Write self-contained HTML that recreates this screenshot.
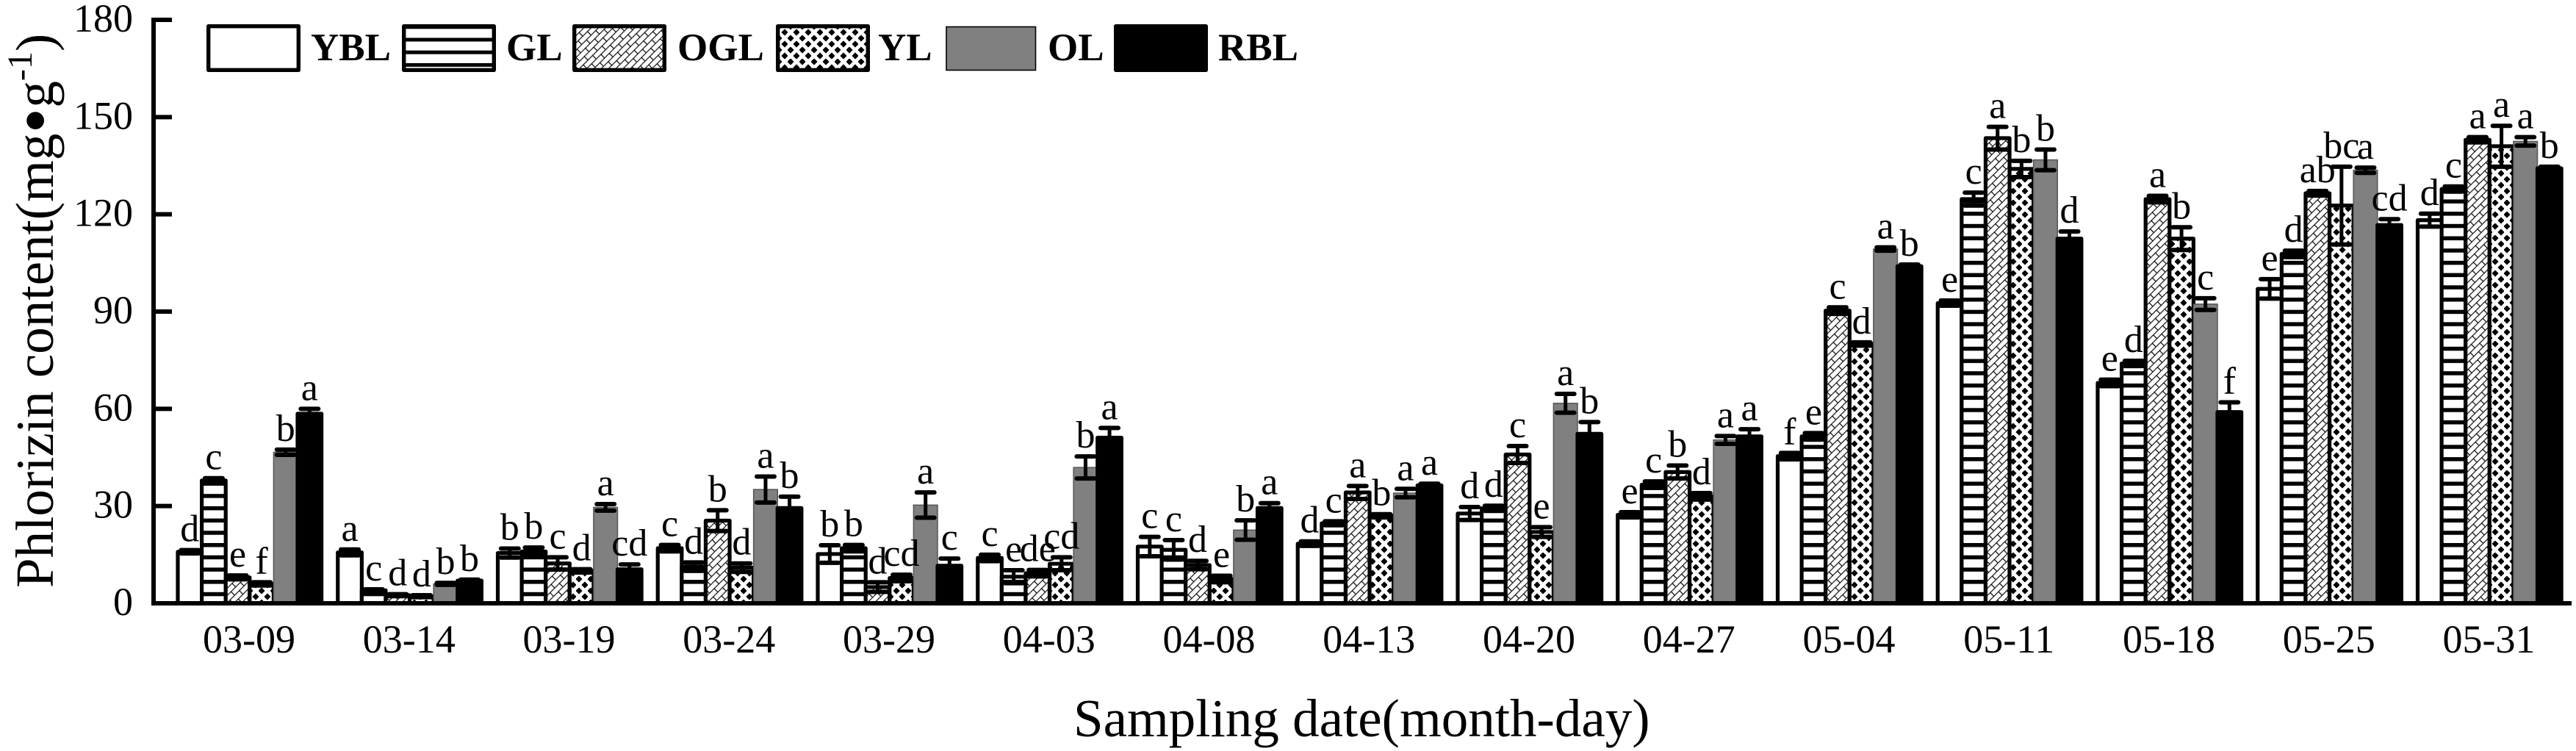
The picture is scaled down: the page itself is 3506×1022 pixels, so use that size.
<!DOCTYPE html>
<html lang="en">
<head>
<meta charset="utf-8">
<title>Phlorizin content by sampling date</title>
<style>
html,body{margin:0;padding:0;background:#fff;}
svg{display:block;}
text{font-family:"Liberation Serif",serif;fill:#000;}
</style>
</head>
<body>
<svg id="chart" xmlns="http://www.w3.org/2000/svg" width="3506" height="1022" viewBox="0 0 3506 1022">
  <defs>
    <pattern id="pat-gl" patternUnits="userSpaceOnUse" x="0" y="4.2" width="40" height="16.7">
      <rect width="40" height="16.7" fill="#fff"/>
      <rect y="0" width="40" height="5.5" fill="#000"/>
    </pattern>
    <pattern id="pat-gl-legend" patternUnits="userSpaceOnUse" x="0" y="51.5" width="40" height="17.2">
      <rect width="40" height="17.2" fill="#fff"/>
      <rect y="0" width="40" height="5" fill="#000"/>
    </pattern>
    <pattern id="pat-ogl" patternUnits="userSpaceOnUse" width="18" height="14" patternTransform="rotate(-45)">
      <rect width="18" height="14" fill="#fff"/>
      <path d="M0 0.7H18M0 7.7H18M4 0.7V7.7M13 7.7V14" stroke="#000" stroke-width="1.2" fill="none"/>
    </pattern>
    <pattern id="pat-yl" patternUnits="userSpaceOnUse" x="0" y="0" width="16" height="16">
      <rect width="16" height="16" fill="#fff"/>
      <path d="M4 -0.6L8.6 4L4 8.6L-0.6 4ZM12 7.4L16.6 12L12 16.6L7.4 12ZM12 -8.6L16.6 -4L12 0.6L7.4 -4Z" fill="#000"/>
    </pattern>
  </defs>

  <text transform="translate(72 800) rotate(-90)" font-size="73">Phlorizin content(mg<tspan dy="9" font-size="100">•</tspan><tspan dy="-9">g</tspan><tspan dy="-29" font-size="48">-1</tspan><tspan dy="29">)</tspan></text>
  <text x="1461" y="1002" font-size="73">Sampling date(month-day)</text>

  <g id="bars"></g>
  <g id="errors"></g>
  <g id="letters"></g>
  <g id="axes"></g>

  <g>
    <g>
      <rect x="283.7" y="35.7" width="122.6" height="59.6" fill="#fff" stroke="#000" stroke-width="5.4" stroke-linejoin="round"/>
      <text x="423" y="82" font-size="53" font-weight="bold">YBL</text>
    </g>
    <g>
      <rect x="549.7" y="35.7" width="122.6" height="59.6" fill="url(#pat-gl-legend)" stroke="#000" stroke-width="5.4" stroke-linejoin="round"/>
      <text x="689" y="82" font-size="53" font-weight="bold">GL</text>
    </g>
    <g>
      <rect x="781.7" y="35.7" width="122.6" height="59.6" fill="url(#pat-ogl)" stroke="#000" stroke-width="5.4" stroke-linejoin="round"/>
      <text x="922" y="82" font-size="53" font-weight="bold">OGL</text>
    </g>
    <g>
      <rect x="1058.7" y="35.7" width="122.6" height="59.6" fill="url(#pat-yl)" stroke="#000" stroke-width="5.4" stroke-linejoin="round"/>
      <text x="1195" y="82" font-size="53" font-weight="bold">YL</text>
    </g>
    <g>
      <rect x="1288" y="36.5" width="121.5" height="59" fill="#808080" stroke="#000" stroke-width="1.6"/>
      <text x="1426" y="82" font-size="53" font-weight="bold">OL</text>
    </g>
    <g>
      <rect x="1518.7" y="35.7" width="122.6" height="59.6" fill="#000" stroke="#000" stroke-width="5.4" stroke-linejoin="round"/>
      <text x="1658" y="82" font-size="53" font-weight="bold">RBL</text>
    </g>
  </g>
</svg>

<script>
const categories = ["03-09","03-14","03-19","03-24","03-29","04-03","04-08","04-13","04-20","04-27","05-04","05-11","05-18","05-25","05-31"];
const yTickLabels = [0,30,60,90,120,150,180];
const seriesNames = ["YBL","GL","OGL","YL","OL","RBL"];

const valuesYBL = [15.9,15.7,15.5,17.0,15.2,14.0,17.5,18.4,27.7,27.3,45.4,92.6,68.0,97.0,118.2];
const valuesGL  = [37.9,4.0,16.0,11.3,17.0,8.2,16.5,24.7,29.3,36.6,51.5,124.7,74.0,107.8,127.8];
const valuesOGL = [8.0,2.5,12.3,25.5,5.0,9.3,11.8,34.2,45.9,40.5,90.3,143.5,124.7,126.5,143.0];
const valuesYL  = [6.0,2.2,10.0,11.0,7.8,12.2,7.5,27.0,22.0,33.0,80.0,134.0,112.5,122.7,141.0];
const valuesOL  = [46.6,6.0,29.6,35.1,30.3,41.9,22.6,34.0,61.7,50.4,109.3,136.8,92.3,133.6,142.5];
const valuesRBL = [58.5,7.0,10.5,29.4,11.6,51.1,29.4,36.4,52.3,51.5,104.0,112.5,59.0,116.7,134.2];

const errorsYBL = [0.5,0.9,1.4,1.0,2.7,1.0,3.0,0.7,2.0,0.8,1.0,0.8,1.0,3.0,2.0];
const errorsGL  = [0.7,0.3,1.2,1.3,1.0,2.0,3.0,0.6,0.8,1.0,1.0,2.0,0.8,1.0,0.8];
const errorsOGL = [0.6,0.3,1.9,3.2,1.5,1.0,1.3,2.0,2.6,2.0,1.0,3.5,1.0,0.7,0.8];
const errorsYL  = [0.5,0.3,0.5,1.3,1.0,2.0,1.0,0.5,1.5,1.0,0.5,2.5,3.5,12.0,6.3];
const errorsOL  = [0.8,0.3,1.0,4.0,3.9,3.4,3.0,1.3,2.9,1.2,0.5,3.2,1.8,0.8,1.3];
const errorsRBL = [1.5,0.3,1.5,3.5,2.2,3.0,1.5,0.5,3.6,2.2,0.5,2.2,3.0,1.8,0.5];

const lettersYBL = ["d","a","b","c","b","c","c","d","d","e","f","e","e","e","d"];
const lettersGL  = ["c","c","b","d","b","e","c","c","d","c","e","c","d","d","c"];
const lettersOGL = ["e","d","c","b","d","de","d","a","c","b","c","a","a","ab","a"];
const lettersYL  = ["f","d","d","d","cd","cd","e","b","e","d","d","b","b","bc","a"];
const lettersOL  = ["b","b","a","a","a","b","b","a","a","a","a","b","c","a","a"];
const lettersRBL = ["a","b","cd","b","c","a","a","a","b","a","b","d","f","cd","b"];

const seriesValues = [valuesYBL,valuesGL,valuesOGL,valuesYL,valuesOL,valuesRBL];
const seriesErrors = [errorsYBL,errorsGL,errorsOGL,errorsYL,errorsOL,errorsRBL];
const seriesLetters = [lettersYBL,lettersGL,lettersOGL,lettersYL,lettersOL,lettersRBL];

const SVG_NS = "http://www.w3.org/2000/svg";
const plot = {y0: 821, y180: 27, yMax: 180, firstBarLeft: 242, groupPitch: 217.75, barWidth: 32.6};

function yScale(v) {
  return plot.y0 - (v / plot.yMax) * (plot.y0 - plot.y180);
}
function barLeft(groupIndex, seriesIndex) {
  return plot.firstBarLeft + groupIndex * plot.groupPitch + seriesIndex * plot.barWidth;
}
function groupCenter(groupIndex) {
  return plot.firstBarLeft + 97 + groupIndex * plot.groupPitch;
}
function make(tag, attrs, parent) {
  const el = document.createElementNS(SVG_NS, tag);
  for (const k in attrs) el.setAttribute(k, attrs[k]);
  parent.appendChild(el);
  return el;
}
function barStyle(seriesIndex) {
  if (seriesIndex === 0) return {fill: "#fff", stroke: "#000", "stroke-width": 5.2, "stroke-linejoin": "round"};
  if (seriesIndex === 1) return {fill: "url(#pat-gl)", stroke: "#000", "stroke-width": 5.2, "stroke-linejoin": "round"};
  if (seriesIndex === 2) return {fill: "url(#pat-ogl)", stroke: "#000", "stroke-width": 5.2, "stroke-linejoin": "round"};
  if (seriesIndex === 3) return {fill: "url(#pat-yl)", stroke: "#000", "stroke-width": 5.2, "stroke-linejoin": "round"};
  if (seriesIndex === 4) return {fill: "#808080", stroke: "#555", "stroke-width": 1.5};
  return {fill: "#000", stroke: "#000", "stroke-width": 5.2, "stroke-linejoin": "round"};
}

const barsLayer = document.getElementById("bars");
const errorsLayer = document.getElementById("errors");
const lettersLayer = document.getElementById("letters");
const axesLayer = document.getElementById("axes");

categories.forEach(function (cat, g) {
  seriesNames.forEach(function (name, s) {
    const v = seriesValues[s][g];
    const e = seriesErrors[s][g];
    const left = barLeft(g, s);
    const cx = left + plot.barWidth / 2;
    const tag = name.toLowerCase() + "-" + cat;

    const bar = make("rect", Object.assign({x: left, y: yScale(v), width: plot.barWidth, height: plot.y0 - yScale(v)}, barStyle(s)), barsLayer);
    
    

    const err = make("g", {stroke: "#000", fill: "none"}, errorsLayer);
    
    
    make("line", {x1: cx, x2: cx, y1: yScale(v + e), y2: yScale(v - e), "stroke-width": 5}, err);
    make("line", {x1: cx - 12, x2: cx + 12, y1: yScale(v + e), y2: yScale(v + e), "stroke-width": 6, "stroke-linecap": "round"}, err);
    make("line", {x1: cx - 12, x2: cx + 12, y1: yScale(v - e), y2: yScale(v - e), "stroke-width": 6, "stroke-linecap": "round"}, err);

    const letter = make("text", {x: cx, y: yScale(v + e) - 12, "font-size": 52, "text-anchor": "middle"}, lettersLayer);
    
    
    letter.textContent = seriesLetters[s][g];
  });

  const label = make("text", {x: groupCenter(g), y: 888, "font-size": 54, "text-anchor": "middle"}, axesLayer);
  
  
  label.textContent = cat;
});

yTickLabels.forEach(function (t) {
  const tick = make("line", {x1: 209, x2: 234, y1: yScale(t), y2: yScale(t), stroke: "#000", "stroke-width": 6}, axesLayer);
  
  

  const label = make("text", {x: 181, y: yScale(t) + 16, "font-size": 54, "text-anchor": "end"}, axesLayer);
  
  
  label.textContent = t;
});

const yAxisLine = make("line", {x1: 209, x2: 209, y1: yScale(plot.yMax) - 3, y2: plot.y0 + 3, stroke: "#000", "stroke-width": 6}, axesLayer);



const xAxisLine = make("line", {x1: 206, x2: 3500, y1: plot.y0, y2: plot.y0, stroke: "#000", "stroke-width": 6}, axesLayer);


</script>
</body>
</html>
